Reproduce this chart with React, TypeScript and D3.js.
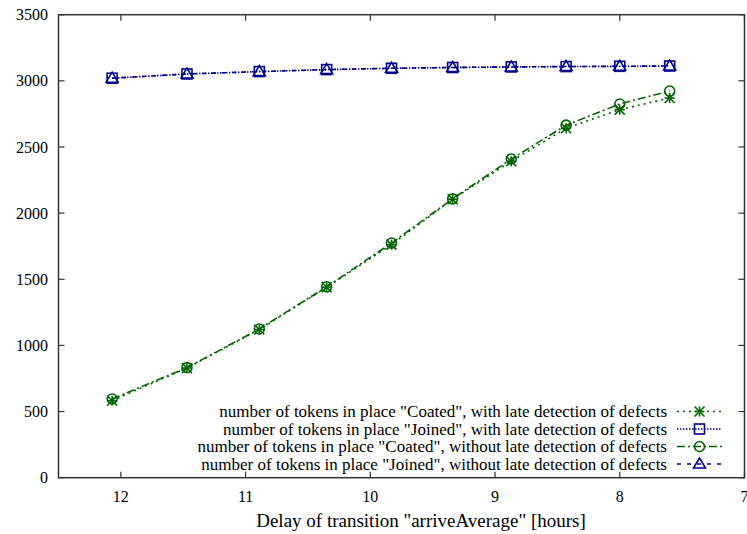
import React from "react";
import * as d3 from "d3";

const delays = [12.07, 11.47, 10.89, 10.35, 9.83, 9.34, 8.87, 8.43, 8.0, 7.6];
const coatedLate = [582, 829, 1120, 1440, 1762, 2105, 2392, 2642, 2782, 2870];
const joinedLate = [3020, 3052, 3070, 3085, 3095, 3101, 3105, 3108, 3110, 3112];
const coatedNoLate = [595, 832, 1124, 1443, 1774, 2108, 2409, 2665, 2825, 2923];
const joinedNoLate = [3020, 3052, 3070, 3085, 3095, 3101, 3105, 3108, 3110, 3112];

const xTicks = [12, 11, 10, 9, 8, 7];
const yTicks = [0, 500, 1000, 1500, 2000, 2500, 3000, 3500];

const seriesNames = [
  'number of tokens in place "Coated", with late detection of defects',
  'number of tokens in place "Joined", with late detection of defects',
  'number of tokens in place "Coated", without late detection of defects',
  'number of tokens in place "Joined", without late detection of defects',
];

const GREEN = "#006400";
const BLUE = "#00008b";

type Series = { name: string; values: number[]; color: string; dash: string; marker: string };

const series: Series[] = [
  { name: seriesNames[0], values: coatedLate, color: GREEN, dash: "2,4", marker: "star" },
  { name: seriesNames[1], values: joinedLate, color: BLUE, dash: "1.5,1.5", marker: "square" },
  { name: seriesNames[2], values: coatedNoLate, color: GREEN, dash: "8,3,2,3", marker: "circle" },
  { name: seriesNames[3], values: joinedNoLate, color: BLUE, dash: "4,6", marker: "triangle" },
];

const FONT = '"Liberation Serif", "Times New Roman", serif';
const tickStyle = { fontFamily: FONT, fontSize: "16px" };
const legendStyle = { fontFamily: FONT, fontSize: "17px" };
const titleStyle = { fontFamily: FONT, fontSize: "19px" };

function Marker({ type, x, y, color }: { type: string; x: number; y: number; color: string }) {
  const s = 5;
  const common = { fill: "none", stroke: color, strokeWidth: 1.6 };
  if (type === "star") {
    return (
      <g {...common}>
        <line x1={x - s} y1={y} x2={x + s} y2={y} />
        <line x1={x} y1={y - s} x2={x} y2={y + s} />
        <line x1={x - s} y1={y - s} x2={x + s} y2={y + s} />
        <line x1={x - s} y1={y + s} x2={x + s} y2={y - s} />
      </g>
    );
  }
  if (type === "square") return <rect x={x - s} y={y - s} width={2 * s} height={2 * s} {...common} />;
  if (type === "circle") return <circle cx={x} cy={y} r={s} {...common} />;
  return <path d={`M${x},${y - s - 1}L${x + s + 1},${y + s - 1}L${x - s - 1},${y + s - 1}Z`} {...common} />;
}

export default function App() {
  const W = 747, H = 534;
  const left = 58.5, right = 744.5, top = 14.7, bottom = 477.7;
  const x = d3.scaleLinear().domain([12.5, 7]).range([left, right]);
  const y = d3.scaleLinear().domain([0, 3500]).range([bottom, top]);
  const line = d3.line<[number, number]>().x((d) => x(d[0])).y((d) => y(d[1]));
  const tl = 6;
  const legendX = 667;
  const legendY0 = 411.5;
  const legendDy = 17.5;

  return (
    <svg width={W} height={H} style={{ position: "absolute", left: 0, top: 0, background: "#fff" }}>
      <g stroke="#333" strokeWidth={1.2}>
        {yTicks.map((t) => (
          <g key={"y" + t}>
            <line x1={left} x2={left + tl} y1={y(t)} y2={y(t)} />
            <line x1={right} x2={right - tl} y1={y(t)} y2={y(t)} />
          </g>
        ))}
        {xTicks.map((t) => (
          <g key={"x" + t}>
            <line x1={x(t)} x2={x(t)} y1={bottom} y2={bottom - tl} />
            <line x1={x(t)} x2={x(t)} y1={top} y2={top + tl} />
          </g>
        ))}
      </g>
      {yTicks.map((t) => (
        <text key={"yl" + t} x={48} y={y(t)} dy="0.35em" textAnchor="end" style={tickStyle} fill="#000">
          {t}
        </text>
      ))}
      {xTicks.map((t) => (
        <text key={"xl" + t} x={x(t)} y={502} textAnchor="middle" style={tickStyle} fill="#000">
          {t}
        </text>
      ))}
      <text x={421} y={527} textAnchor="middle" style={titleStyle} fill="#000">
        Delay of transition "arriveAverage" [hours]
      </text>

      {series.map((s, i) => {
        const pts: [number, number][] = delays.map((d, j) => [d, s.values[j]]);
        return (
          <g key={"s" + i}>
            <path d={line(pts) || ""} fill="none" stroke={s.color} strokeWidth={1.6} strokeDasharray={s.dash} />
            {pts.map((p, j) => (
              <Marker key={j} type={s.marker} x={x(p[0])} y={y(p[1])} color={s.color} />
            ))}
          </g>
        );
      })}

      {series.map((s, i) => {
        const ly = legendY0 + i * legendDy;
        return (
          <g key={"l" + i}>
            <text x={legendX} y={ly} dy="0.33em" textAnchor="end" style={legendStyle} fill="#000">
              {s.name}
            </text>
            <line x1={677} x2={722} y1={ly} y2={ly} stroke={s.color} strokeWidth={1.6} strokeDasharray={s.dash} />
            <Marker type={s.marker} x={699.5} y={ly} color={s.color} />
          </g>
        );
      })}

      <rect x={left} y={top} width={right - left} height={bottom - top} fill="none" stroke="#333" strokeWidth={1.5} />
    </svg>
  );
}
